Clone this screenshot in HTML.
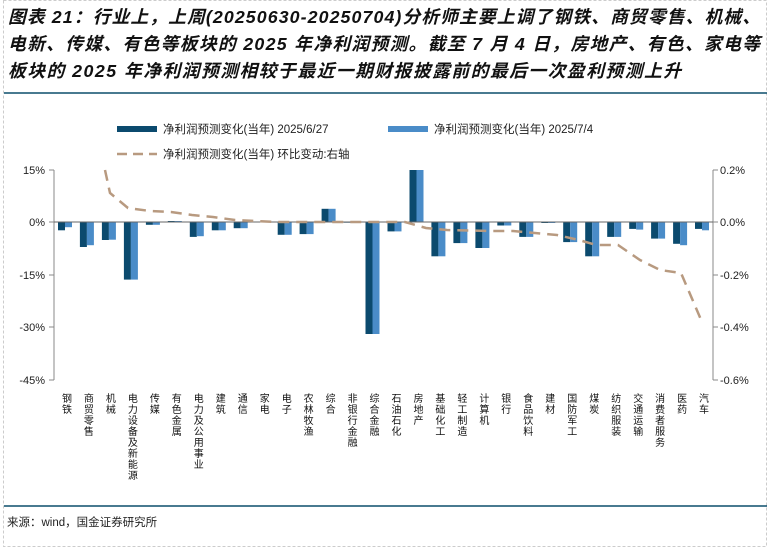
<!DOCTYPE html>
<html><head><meta charset="utf-8"><style>
body{margin:0;background:#fff;}
svg text{font-family:"Liberation Sans","Noto Sans CJK SC",sans-serif;}
.t{font-family:"Liberation Sans","Noto Sans CJK SC",sans-serif;font-weight:bold;font-style:italic;font-size:17.8px;fill:#111;}
.v{writing-mode:vertical-rl;text-orientation:upright;letter-spacing:1px;font-size:10px;fill:#111;}
</style></head><body>
<svg width="771" height="547" viewBox="0 0 771 547" xmlns="http://www.w3.org/2000/svg">
<rect x="3.5" y="0.5" width="763" height="546" fill="none" stroke="#ccc" stroke-dasharray="3,2"/>
<text class="t" x="8" y="23" textLength="752" lengthAdjust="spacing">图表 21：行业上，上周(20250630-20250704)分析师主要上调了钢铁、商贸零售、机械、</text>
<text class="t" x="8" y="50" textLength="752" lengthAdjust="spacing">电新、传媒、有色等板块的 2025 年净利润预测。截至 7 月 4 日，房地产、有色、家电等</text>
<text class="t" x="8" y="77" textLength="673" lengthAdjust="spacing">板块的 2025 年净利润预测相较于最近一期财报披露前的最后一次盈利预测上升</text>
<line x1="4" y1="93" x2="767" y2="93" stroke="#0b4f6c" stroke-width="1.5"/>
<rect x="117" y="126" width="40" height="6" fill="#0b4a6e"/>
<text x="163" y="133" font-size="11.5" fill="#222">净利润预测变化(当年) 2025/6/27</text>
<rect x="388" y="126" width="40" height="6" fill="#4a8cc8"/>
<text x="434" y="133" font-size="11.5" fill="#222">净利润预测变化(当年) 2025/7/4</text>
<line x1="117" y1="154" x2="157" y2="154" stroke="#b89a80" stroke-width="2.5" stroke-dasharray="10,6"/>
<text x="163" y="158" font-size="11.5" fill="#222">净利润预测变化(当年) 环比变动:右轴</text>
<g font-size="11" fill="#222" text-anchor="end">
<text x="45" y="174">15%</text><text x="45" y="226">0%</text><text x="45" y="279">-15%</text><text x="45" y="331">-30%</text><text x="45" y="384">-45%</text>
</g>
<g font-size="11" fill="#222">
<text x="720" y="174">0.2%</text><text x="720" y="226">0.0%</text><text x="720" y="279">-0.2%</text><text x="720" y="331">-0.4%</text><text x="720" y="384">-0.6%</text>
</g>
<g stroke="#888" stroke-width="1">
<line x1="54" y1="170" x2="54" y2="380"/>
<line x1="49" y1="170" x2="54" y2="170"/><line x1="49" y1="222" x2="54" y2="222"/><line x1="49" y1="275" x2="54" y2="275"/><line x1="49" y1="327" x2="54" y2="327"/><line x1="49" y1="380" x2="54" y2="380"/>
<line x1="713" y1="170" x2="713" y2="380"/>
<line x1="713" y1="170" x2="718" y2="170"/><line x1="713" y1="222" x2="718" y2="222"/><line x1="713" y1="275" x2="718" y2="275"/><line x1="713" y1="327" x2="718" y2="327"/><line x1="713" y1="380" x2="718" y2="380"/>
</g>
<g fill="#0b4a6e">
<rect x="58" y="222" width="7" height="8.3"/>
<rect x="79.9" y="222" width="7" height="25"/>
<rect x="101.9" y="222" width="7" height="18"/>
<rect x="123.9" y="222" width="7" height="57.6"/>
<rect x="145.9" y="222" width="7" height="2.8"/>
<rect x="167.8" y="221" width="7" height="1"/>
<rect x="189.8" y="222" width="7" height="14.9"/>
<rect x="211.8" y="222" width="7" height="8.3"/>
<rect x="233.7" y="222" width="7" height="6.2"/>
<rect x="255.7" y="221.5" width="7" height="0.5"/>
<rect x="277.7" y="222" width="7" height="12.8"/>
<rect x="299.6" y="222" width="7" height="12.1"/>
<rect x="321.6" y="208.8" width="7" height="13.2"/>
<rect x="343.6" y="222" width="7" height="0.7"/>
<rect x="365.5" y="222" width="7" height="112"/>
<rect x="387.5" y="222" width="7" height="9.4"/>
<rect x="409.5" y="170" width="7" height="52"/>
<rect x="431.4" y="222" width="7" height="34.3"/>
<rect x="453.4" y="222" width="7" height="21.1"/>
<rect x="475.4" y="222" width="7" height="26"/>
<rect x="497.3" y="222" width="7" height="3.5"/>
<rect x="519.3" y="222" width="7" height="14.9"/>
<rect x="541.3" y="222" width="7" height="1"/>
<rect x="563.2" y="222" width="7" height="20.1"/>
<rect x="585.2" y="222" width="7" height="34.3"/>
<rect x="607.2" y="222" width="7" height="14.9"/>
<rect x="629.2" y="222" width="7" height="6.9"/>
<rect x="651.1" y="222" width="7" height="16.6"/>
<rect x="673.1" y="222" width="7" height="21.8"/>
<rect x="695" y="222" width="7" height="6.9"/>
</g>
<g fill="#4a8cc8">
<rect x="65" y="222" width="7" height="5.2"/>
<rect x="86.9" y="222" width="7" height="23.2"/>
<rect x="108.9" y="222" width="7" height="17.7"/>
<rect x="130.9" y="222" width="7" height="57.6"/>
<rect x="152.9" y="222" width="7" height="2.8"/>
<rect x="174.8" y="221" width="7" height="1"/>
<rect x="196.8" y="222" width="7" height="14.2"/>
<rect x="218.8" y="222" width="7" height="8.3"/>
<rect x="240.7" y="222" width="7" height="6.2"/>
<rect x="262.7" y="221.5" width="7" height="0.5"/>
<rect x="284.7" y="222" width="7" height="12.8"/>
<rect x="306.6" y="222" width="7" height="12.1"/>
<rect x="328.6" y="208.8" width="7" height="13.2"/>
<rect x="350.6" y="222" width="7" height="0.7"/>
<rect x="372.5" y="222" width="7" height="112"/>
<rect x="394.5" y="222" width="7" height="9.4"/>
<rect x="416.5" y="170" width="7" height="52"/>
<rect x="438.4" y="222" width="7" height="34.3"/>
<rect x="460.4" y="222" width="7" height="21.1"/>
<rect x="482.4" y="222" width="7" height="26"/>
<rect x="504.3" y="222" width="7" height="3.5"/>
<rect x="526.3" y="222" width="7" height="14.9"/>
<rect x="548.3" y="222" width="7" height="1"/>
<rect x="570.2" y="222" width="7" height="20.1"/>
<rect x="592.2" y="222" width="7" height="34.3"/>
<rect x="614.2" y="222" width="7" height="14.9"/>
<rect x="636.2" y="222" width="7" height="7.6"/>
<rect x="658.1" y="222" width="7" height="16.6"/>
<rect x="680.1" y="222" width="7" height="23.2"/>
<rect x="702" y="222" width="7" height="8.3"/>
</g>
<line x1="54" y1="222" x2="713" y2="222" stroke="#666" stroke-width="1"/>
<polyline fill="none" stroke="#b89a80" stroke-width="2.5" stroke-dasharray="11,7" points="105,170 110,193 128,208 150,211 171,212 192,215 213,217 235,220 256,221 278,222 300,222 322,222 344,222 366,222 388,222 405,222 426,228 447,230 469,230.5 491,231 513,231 535,233 557,235 579,240 596,245 618,245 640,260 660,270 681,273 702,322"/>
<g>
<text class="v" x="65" y="393">钢铁</text>
<text class="v" x="86.9" y="393">商贸零售</text>
<text class="v" x="108.9" y="393">机械</text>
<text class="v" x="130.9" y="393">电力设备及新能源</text>
<text class="v" x="152.9" y="393">传媒</text>
<text class="v" x="174.8" y="393">有色金属</text>
<text class="v" x="196.8" y="393">电力及公用事业</text>
<text class="v" x="218.8" y="393">建筑</text>
<text class="v" x="240.7" y="393">通信</text>
<text class="v" x="262.7" y="393">家电</text>
<text class="v" x="284.7" y="393">电子</text>
<text class="v" x="306.6" y="393">农林牧渔</text>
<text class="v" x="328.6" y="393">综合</text>
<text class="v" x="350.6" y="393">非银行金融</text>
<text class="v" x="372.5" y="393">综合金融</text>
<text class="v" x="394.5" y="393">石油石化</text>
<text class="v" x="416.5" y="393">房地产</text>
<text class="v" x="438.4" y="393">基础化工</text>
<text class="v" x="460.4" y="393">轻工制造</text>
<text class="v" x="482.4" y="393">计算机</text>
<text class="v" x="504.3" y="393">银行</text>
<text class="v" x="526.3" y="393">食品饮料</text>
<text class="v" x="548.3" y="393">建材</text>
<text class="v" x="570.2" y="393">国防军工</text>
<text class="v" x="592.2" y="393">煤炭</text>
<text class="v" x="614.2" y="393">纺织服装</text>
<text class="v" x="636.2" y="393">交通运输</text>
<text class="v" x="658.1" y="393">消费者服务</text>
<text class="v" x="680.1" y="393">医药</text>
<text class="v" x="702" y="393">汽车</text>
</g>
<line x1="4" y1="506" x2="767" y2="506" stroke="#0b4f6c" stroke-width="1.5"/>
<text x="7" y="526" font-size="11.5" fill="#222">来源：wind，国金证券研究所</text>
</svg>
</body></html>
